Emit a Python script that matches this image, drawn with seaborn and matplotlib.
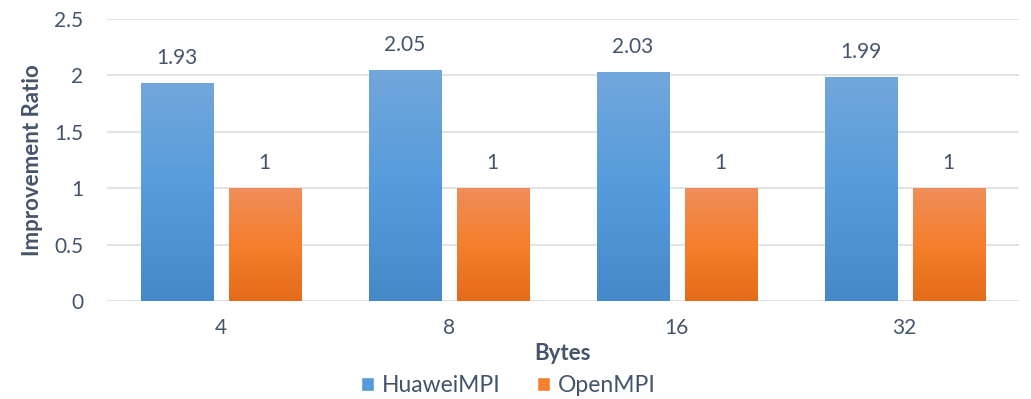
import numpy as np
import pandas as pd
import matplotlib
matplotlib.use("Agg")
import matplotlib.pyplot as plt
import seaborn as sns
from matplotlib.colors import LinearSegmentedColormap
from matplotlib.patches import Patch

categories = ["4", "8", "16", "32"]
huawei = [1.93, 2.05, 2.03, 1.99]
openmpi = [1, 1, 1, 1]
series = ["HuaweiMPI", "OpenMPI"]

df = pd.DataFrame({
    "Bytes": categories * 2,
    "Ratio": huawei + openmpi,
    "Series": [series[0]] * 4 + [series[1]] * 4,
})

sns.set_theme(style="white")
plt.rcParams['font.family'] = ['Lato', 'DejaVu Sans']
txt = "#44546a"

fig = plt.figure(figsize=(10.31, 3.99), dpi=100)
ax = fig.add_axes([0.1036, 0.2456, 0.8844, 0.7068])

blue_mid = "#559bdc"
orange_mid = "#f47f2c"
sns.barplot(data=df, x="Bytes", y="Ratio", hue="Series", order=categories,
            hue_order=series, palette=[blue_mid, orange_mid], width=0.772,
            gap=0.18, ax=ax, legend=False, saturation=1)

ax.set_ylim(0, 2.5)
ax.set_xlim(-0.5, 3.5)
ax.set_yticks([0, 0.5, 1, 1.5, 2, 2.5])
ax.set_yticklabels(["0", "0.5", "1", "1.5", "2", "2.5"])
ax.yaxis.grid(True, color="#d9dde3", lw=1.2)
ax.set_axisbelow(True)
for s in ax.spines.values():
    s.set_visible(False)
ax.tick_params(axis="both", length=0, labelsize=15, labelcolor=txt)
ax.tick_params(axis="y", pad=17)
ax.tick_params(axis="x", pad=12)

cmaps = {
    0: LinearSegmentedColormap.from_list("b", ["#4689c8", "#559bdc", "#72a7db"]),
    1: LinearSegmentedColormap.from_list("o", ["#e46b1a", "#f47f2c", "#f08d5a"]),
}
grad = np.linspace(0, 1, 256).reshape(-1, 1)
patches = list(ax.patches)
for i, p in enumerate(patches):
    si = 0 if i < len(categories) else 1
    x0, y0 = p.get_x(), p.get_y()
    w, h = p.get_width(), p.get_height()
    im = ax.imshow(grad, cmap=cmaps[si], origin="lower", aspect="auto",
                   extent=[x0, x0 + w, y0, y0 + h], zorder=p.get_zorder() + 0.1)
    im.set_clip_path(p)
    vals = huawei if si == 0 else openmpi
    v = vals[i % len(categories)]
    ax.annotate(f"{v:g}", (x0 + w / 2, y0 + h), xytext=(0, 18),
                textcoords="offset points", ha="center", va="center",
                fontsize=15, color=txt)
ax.set_xlim(-0.5, 3.5)
ax.set_ylim(0, 2.5)

ax.set_xlabel("Bytes", fontsize=16, fontweight="bold", color=txt, labelpad=4)
ax.set_ylabel("Improvement Ratio", fontsize=16, fontweight="bold", color=txt, labelpad=8)

handles = [Patch(facecolor=blue_mid), Patch(facecolor=orange_mid)]
fig.legend(handles, series, loc="lower center", bbox_to_anchor=(0.493, -0.045),
           ncol=2, frameon=False, fontsize=16.5, labelcolor=txt,
           handlelength=0.55, handleheight=0.55, handletextpad=0.35, columnspacing=1.6)

fig.savefig("out.png", dpi=100)
